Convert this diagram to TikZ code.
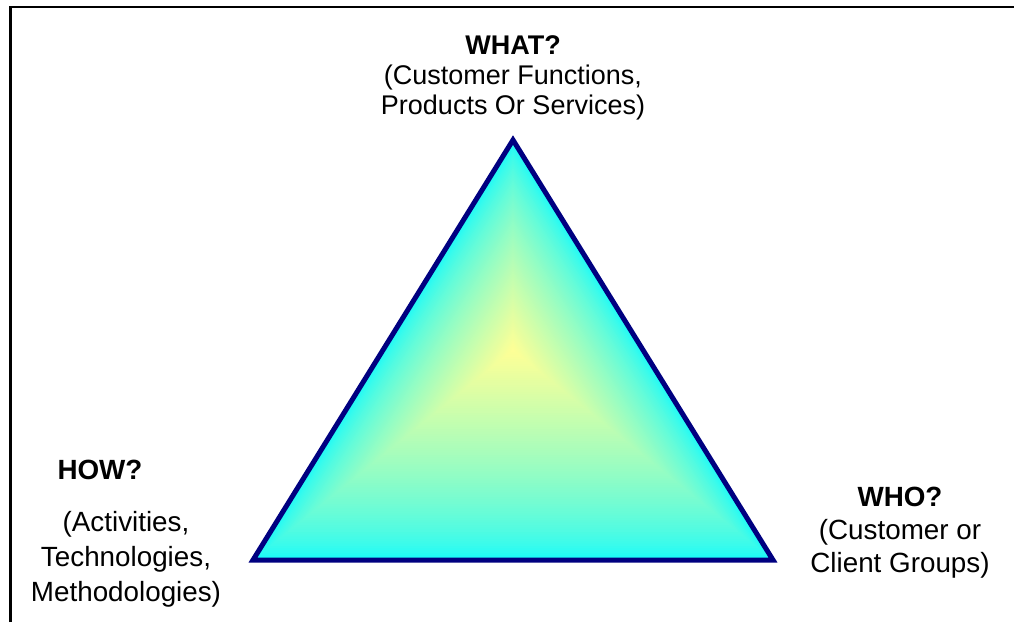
\documentclass[tikz,border=0pt]{standalone}
\usepackage{fontspec}
\setmainfont{Liberation Sans}
\definecolor{edgecyan}{RGB}{20,250,252}
\definecolor{coreyellow}{RGB}{255,255,150}
\definecolor{rimnavy}{RGB}{0,0,128}
\begin{document}
\begin{tikzpicture}[x=1pt,y=-1pt,
  txt/.style={inner sep=0pt, align=center, anchor=north,
              font=\fontsize{27.8}{33}\selectfont},
  frameline/.style={line width=2.3pt, black},
  rim/.style={draw=rimnavy, line width=5pt, line join=miter}]
\useasboundingbox (0,0) rectangle (1014,622);

% open frame: left and top edges
\coordinate (fbl) at (10.5,622);
\coordinate (ftl) at (10.5,6.7);
\coordinate (ftr) at (1014,6.7);
\draw[frameline] (fbl) -- (ftl) -- (ftr);

% triangle corners
\coordinate (A) at (513,140);
\coordinate (B) at (253,560);
\coordinate (D) at (773,560);

% centre-out gradient: nested triangles shrinking toward the middle
\foreach \i in {0,...,89}{
  \pgfmathsetmacro{\s}{1-\i/90}
  \pgfmathsetmacro{\p}{100*(\i/90)^0.68}
  \fill[coreyellow!\p!edgecyan, shift={(513,350)}, scale=\s]
    (0,-210) -- (-260,210) -- (260,210) -- cycle;
}
\draw[rim] (A) -- (B) -- (D) -- cycle;

% labels
\node[txt, font=\fontsize{27}{30}\selectfont] (what) at (513,35)
  {\textbf{WHAT?}\\(Customer Functions,\\Products Or Services)};
\node[txt] (how) at (100,460) {\textbf{HOW?}};
\node[txt, font=\fontsize{27.8}{35}\selectfont] (howtxt) at (126,511)
  {(Activities,\\Technologies,\\Methodologies)};
\node[txt] (who) at (900,487)
  {\textbf{WHO?}\\(Customer or\\Client Groups)};
\end{tikzpicture}
\end{document}
